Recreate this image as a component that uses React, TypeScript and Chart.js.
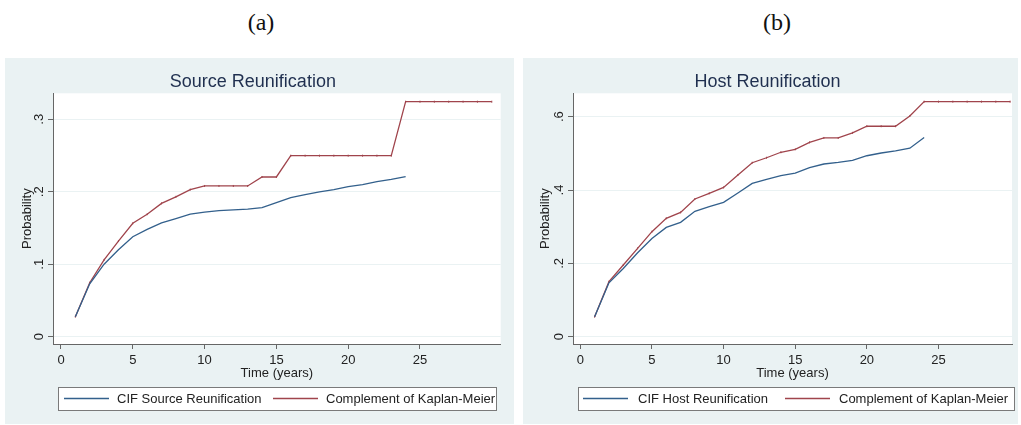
import React, { useEffect, useRef } from "react";
import { Chart, registerables } from "chart.js";

Chart.register(...registerables);

// ---------- data ----------
const years = [1, 2, 3, 4, 5, 6, 7, 8, 9, 10, 11, 12, 13, 14, 15, 16, 17, 18, 19, 20, 21, 22, 23, 24, 25, 26, 27, 28, 29, 30];

const sourceCIF = [0.0276, 0.073, 0.1, 0.12, 0.138, 0.148, 0.157, 0.163, 0.169, 0.172, 0.174, 0.175, 0.176, 0.178, 0.185, 0.192, 0.196, 0.2, 0.203, 0.207, 0.21, 0.214, 0.217, 0.221];
const sourceKM = [0.0276, 0.0745, 0.106, 0.132, 0.1565, 0.169, 0.184, 0.193, 0.203, 0.208, 0.208, 0.208, 0.208, 0.2204, 0.2204, 0.2498, 0.2498, 0.2498, 0.2498, 0.2498, 0.2498, 0.2498, 0.2498, 0.3243, 0.3243, 0.3243, 0.3243, 0.3243, 0.3243, 0.3243];

const hostCIF = [0.0545, 0.147, 0.186, 0.229, 0.268, 0.298, 0.312, 0.342, 0.3545, 0.3665, 0.392, 0.418, 0.429, 0.439, 0.446, 0.461, 0.471, 0.4755, 0.481, 0.4935, 0.501, 0.507, 0.514, 0.543];
const hostKM = [0.0545, 0.15, 0.1955, 0.241, 0.2864, 0.3228, 0.339, 0.3755, 0.391, 0.407, 0.441, 0.4745, 0.488, 0.503, 0.511, 0.53, 0.542, 0.542, 0.556, 0.574, 0.574, 0.574, 0.602, 0.641, 0.641, 0.641, 0.641, 0.641, 0.641, 0.641];

const xTickValues = [0, 5, 10, 15, 20, 25];
const xTickLabels = ["0", "5", "10", "15", "20", "25"];
const sourceYTicks = [0, 0.1, 0.2, 0.3];
const sourceYTickLabels = ["0", ".1", ".2", ".3"];
const hostYTicks = [0, 0.2, 0.4, 0.6];
const hostYTickLabels = ["0", ".2", ".4", ".6"];

const sourceTitle = "Source Reunification";
const hostTitle = "Host Reunification";
const sourceCIFLabel = "CIF Source Reunification";
const hostCIFLabel = "CIF Host Reunification";
const kmLabel = "Complement of Kaplan-Meier";
const xTitle = "Time (years)";
const yTitle = "Probability";
const panelLabels = ["(a)", "(b)"];

// ---------- styles ----------
const FONT = "'Liberation Sans', Arial, sans-serif";
const BG = "#EAF2F3";
const BLUE = "#33608C";
const RED = "#A0444C";
const TEXT = "#222222";
const AXIS = "#666666";

Chart.defaults.font.family = FONT;

type PanelProps = {
  left: number;
  width: number;
  title: string;
  cif: number[];
  km: number[];
  cifLabel: string;
  yTicks: number[];
  yTickLabels: string[];
  yMin: number;
  yMax: number;
  xMin: number;
  xMax: number;
  plotLeft: number;
  padRight: number;
  legend: { boxL: number; boxR: number; l1: number; t1: number; l2: number; t2: number };
};

const HEIGHT = 366;

function Panel(p: PanelProps) {
  const ref = useRef<HTMLCanvasElement | null>(null);
  useEffect(() => {
    if (!ref.current) return;
    const toPts = (arr: number[]) => arr.map((v, i) => ({ x: years[i], y: v }));

    const bgPlugin = {
      id: "plotBg",
      beforeDraw(chart: any) {
        const { ctx, chartArea } = chart;
        ctx.save();
        ctx.fillStyle = "#ffffff";
        ctx.fillRect(chartArea.left, chartArea.top, chartArea.right - chartArea.left, chartArea.bottom - chartArea.top);
        ctx.restore();
      },
    };

    const legendPlugin = {
      id: "stataLegend",
      afterDraw(chart: any) {
        const { ctx } = chart;
        const L = p.legend;
        const top = 329;
        const h = 23;
        const cy = top + h / 2;
        ctx.save();
        ctx.fillStyle = "#ffffff";
        ctx.fillRect(L.boxL, top, L.boxR - L.boxL, h);
        const ds = chart.data.datasets;
        const items = [
          { x1: L.l1, x2: L.l1 + 45, tx: L.t1, d: ds[0] },
          { x1: L.l2, x2: L.l2 + 45, tx: L.t2, d: ds[1] },
        ];
        ctx.font = `13px ${FONT}`;
        ctx.textBaseline = "middle";
        ctx.textAlign = "left";
        items.forEach((it) => {
          ctx.strokeStyle = it.d.borderColor;
          ctx.lineWidth = 1.3;
          ctx.beginPath();
          ctx.moveTo(it.x1, cy);
          ctx.lineTo(it.x2, cy);
          ctx.stroke();
          ctx.fillStyle = TEXT;
          ctx.fillText(it.d.label, it.tx, cy + 0.5);
        });
        ctx.strokeStyle = "#7a7a7a";
        ctx.lineWidth = 1;
        ctx.strokeRect(L.boxL + 0.5, top + 0.5, L.boxR - L.boxL, h);
        ctx.restore();
      },
    };

    const chart = new Chart(ref.current, {
      type: "line",
      data: {
        datasets: [
          {
            label: p.cifLabel,
            data: toPts(p.cif),
            borderColor: BLUE,
            backgroundColor: BLUE,
            borderWidth: 1.3,
            pointRadius: 0,
            tension: 0,
          },
          {
            label: kmLabel,
            data: toPts(p.km),
            borderColor: RED,
            backgroundColor: RED,
            borderWidth: 1.3,
            pointRadius: 1,
            pointStyle: "line",
            rotation: 90,
            pointBorderColor: RED,
            pointBorderWidth: 1,
            tension: 0,
          },
        ],
      },
      options: {
        animation: false,
        responsive: false,
        devicePixelRatio: 1,
        events: [],
        layout: { padding: { left: 0, right: p.padRight, top: 0, bottom: 40 } },
        plugins: {
          legend: { display: false },
          tooltip: { enabled: false },
          title: {
            display: true,
            text: p.title,
            color: "#1F2F4F",
            font: { size: 18, weight: "normal", family: FONT },
            padding: { top: 12.9, bottom: 0.8 },
          },
        },
        scales: {
          x: {
            type: "linear",
            min: p.xMin,
            max: p.xMax,
            afterBuildTicks: (s: any) => {
              s.ticks = xTickValues.map((v) => ({ value: v }));
            },
            afterFit: (s: any) => {
              s.height = 40;
            },
            ticks: {
              color: TEXT,
              font: { size: 13 },
              padding: 3.2,
              maxRotation: 0,
              autoSkip: false,
              callback: (_v: any, i: number) => xTickLabels[i],
            },
            grid: { drawOnChartArea: false, drawTicks: true, tickLength: 5, tickColor: AXIS },
            border: { display: true, color: AXIS, width: 1 },
            title: { display: true, text: xTitle, color: TEXT, font: { size: 13 }, padding: { top: 0, bottom: 3.2 } },
          },
          y: {
            type: "linear",
            min: p.yMin,
            max: p.yMax,
            afterBuildTicks: (s: any) => {
              s.ticks = p.yTicks.map((v) => ({ value: v }));
            },
            afterFit: (s: any) => {
              s.width = p.plotLeft;
            },
            ticks: {
              color: TEXT,
              font: { size: 13 },
              padding: 3.6,
              minRotation: 90,
              maxRotation: 90,
              crossAlign: "center",
              autoSkip: false,
              callback: (_v: any, i: number) => p.yTickLabels[i],
            },
            grid: { color: BG, lineWidth: 1, drawTicks: true, tickLength: 5, tickColor: AXIS },
            border: { display: true, color: AXIS, width: 1 },
            title: { display: true, text: yTitle, color: TEXT, font: { size: 13 }, padding: { top: 14.2, bottom: 0 } },
          },
        },
      },
      plugins: [bgPlugin, legendPlugin],
    } as any);
    return () => chart.destroy();
  }, []);

  return (
    <div style={{ position: "absolute", left: p.left, top: 58, width: p.width, height: HEIGHT, background: BG }}>
      <canvas ref={ref} width={p.width} height={HEIGHT} style={{ display: "block" }} />
    </div>
  );
}

export default function App() {
  return (
    <div style={{ position: "absolute", left: 0, top: 0, width: 1021, height: 425, overflow: "hidden", background: "#ffffff" }}>
      <div style={{ position: "absolute", left: 211, top: 6, width: 100, textAlign: "center", fontFamily: "'Liberation Serif', 'DejaVu Serif', serif", fontSize: 24, lineHeight: "32px", color: "#111" }}>
        {panelLabels[0]}
      </div>
      <div style={{ position: "absolute", left: 727, top: 6, width: 100, textAlign: "center", fontFamily: "'Liberation Serif', 'DejaVu Serif', serif", fontSize: 24, lineHeight: "32px", color: "#111" }}>
        {panelLabels[1]}
      </div>
      <Panel
        left={5}
        width={509}
        title={sourceTitle}
        cif={sourceCIF}
        km={sourceKM}
        cifLabel={sourceCIFLabel}
        yTicks={sourceYTicks}
        yTickLabels={sourceYTickLabels}
        yMin={-0.0101}
        yMax={0.3359}
        xMin={-0.557}
        xMax={30.62}
        plotLeft={48}
        padRight={13.3}
        legend={{ boxL: 53, boxR: 491, l1: 59, t1: 112, l2: 268, t2: 321 }}
      />
      <Panel
        left={523}
        width={495}
        title={hostTitle}
        cif={hostCIF}
        km={hostKM}
        cifLabel={hostCIFLabel}
        yTicks={hostYTicks}
        yTickLabels={hostYTickLabels}
        yMin={-0.0199}
        yMax={0.6638}
        xMin={-0.509}
        xMax={30.13}
        plotLeft={50}
        padRight={6}
        legend={{ boxL: 55, boxR: 491, l1: 60, t1: 115, l2: 262, t2: 316 }}
      />
    </div>
  );
}
